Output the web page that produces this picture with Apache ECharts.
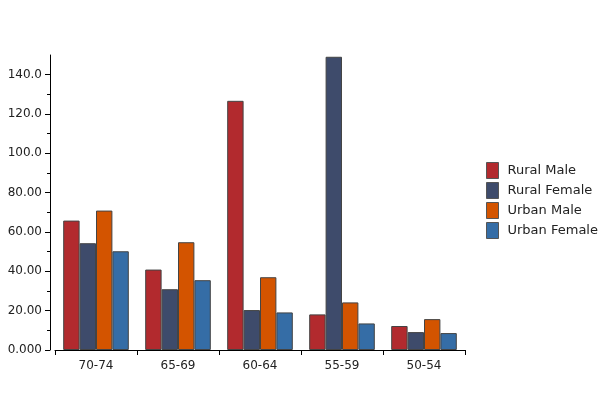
<!DOCTYPE html>
<html><head><meta charset="utf-8">
<script src="https://cdn.jsdelivr.net/npm/echarts@6/dist/echarts.min.js"></script>
<style>html,body{margin:0;padding:0;background:#fff}#c{width:600px;height:400px}</style>
</head><body><div id="c"></div>
<script>
const categories = ['70-74','65-69','60-64','55-59','50-54'];
const ruralMale   = [65.8, 40.9, 126.7, 18.1, 12.2];
const ruralFemale = [54.3, 30.9, 20.3, 149.1, 9.1];
const urbanMale   = [70.9, 54.8, 37.0, 24.2, 15.7];
const urbanFemale = [50.2, 35.5, 19.1, 13.5, 8.6];
const seriesNames = ['Rural Male','Rural Female','Urban Male','Urban Female'];
const yTicks = [0,20,40,60,80,100,120,140];

const colors = ['#b22a2e','#3e4b6b','#d35400','#356da6'];
const chart = echarts.init(document.getElementById('c'));
const data = [ruralMale, ruralFemale, urbanMale, urbanFemale];
chart.setOption({
  animation:false,
  color: colors,
  textStyle:{fontFamily:'DejaVu Sans'},
  grid:{left:55,right:135,top:55,bottom:50,containLabel:false},
  legend:{orient:'vertical',left:486,top:162,padding:0,itemWidth:12,itemHeight:16,itemGap:3,
    icon:'rect',textStyle:{fontSize:13,color:'#222',fontFamily:'DejaVu Sans',lineHeight:16,padding:[0,0,0,4]},
    itemStyle:{borderColor:'#555',borderWidth:1},
    data:seriesNames},
  xAxis:{type:'category',data:categories,
    axisLine:{lineStyle:{color:'#000',width:1}},
    axisTick:{show:true,length:5,lineStyle:{color:'#000'}},
    axisLabel:{color:'#222',fontSize:12,margin:10},
    splitLine:{show:false}},
  yAxis:{type:'value',min:0,max:150,interval:20,offset:5,
    axisLine:{show:true,lineStyle:{color:'#000',width:1}},
    axisTick:{show:true,length:5,lineStyle:{color:'#000'},customValues:yTicks},
    minorTick:{show:true,splitNumber:2,length:3,lineStyle:{color:'#000'}},
    axisLabel:{color:'#222',fontSize:12,margin:8,customValues:yTicks,
      formatter:v=>v.toPrecision(4)},
    splitLine:{show:false}},
  series: seriesNames.map((n,i)=>({name:n,type:'bar',data:data[i],
    barGap:'0%',barCategoryGap:'20%',
    itemStyle:{color:colors[i],borderColor:'#444',borderWidth:1}}))
});
</script></body></html>
